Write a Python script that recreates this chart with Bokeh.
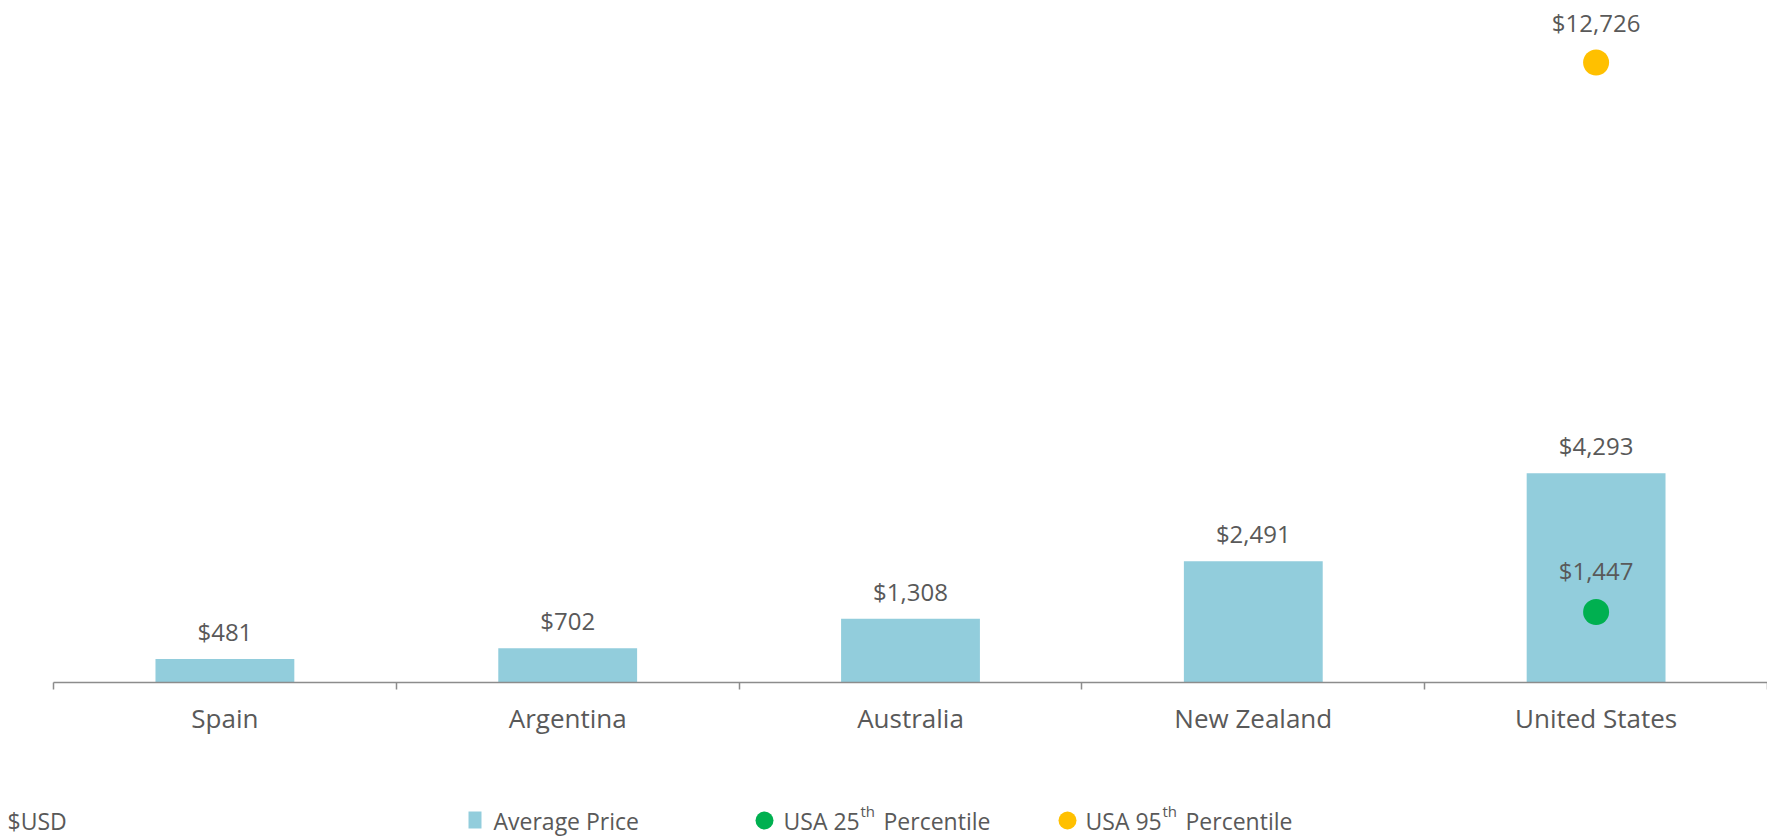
from bokeh.plotting import figure
from bokeh.models import Range1d, LinearAxis, FixedTicker, ColumnDataSource, LabelSet
from bokeh.core.properties import value
from bokeh.embed import file_html
from bokeh.resources import INLINE

# ---- data ----
countries = ["Spain", "Argentina", "Australia", "New Zealand", "United States"]
avg_price = [481, 702, 1308, 2491, 4293]
usa_p25 = [1447]
usa_p95 = [12726]
legend_names = ["Average Price", "USA 25", "USA 95"]
unit_label = "$USD"

BAR = "#92CDDC"
GREEN = "#00B050"
YELLOW = "#FFC000"
TXT = "#595959"
AXC = "#8C8C8C"
FONT = "Open Sans"

W = 1767
H1 = 760
H2 = 76

xs = [i + 0.5 for i in range(len(countries))]
bounds = list(range(len(countries) + 1))
us_x = [xs[countries.index("United States")]]

def money(v):
    return "${:,}".format(v)

src = ColumnDataSource(dict(x=xs, avg=avg_price, lab=[money(v) for v in avg_price]))
src25 = ColumnDataSource(dict(x=us_x, y=usa_p25, lab=[money(v) for v in usa_p25]))
src95 = ColumnDataSource(dict(x=us_x, y=usa_p95, lab=[money(v) for v in usa_p95]))

p = figure(width=W, height=H1, x_range=Range1d(0, 5), y_range=Range1d(0, 14000),
           x_axis_location=None, y_axis_location=None, toolbar_location=None,
           output_backend="svg", min_border_left=53, min_border_right=0,
           min_border_top=0, min_border_bottom=H1 - 682)
p.outline_line_color = None
p.grid.visible = False
p.background_fill_color = "white"
p.border_fill_color = "white"

p.vbar(x="x", top="avg", width=0.405, source=src, fill_color=BAR, line_color=None)
p.scatter(x="x", y="y", source=src25, size=26, fill_color=GREEN, line_color=None)
p.scatter(x="x", y="y", source=src95, size=26, fill_color=YELLOW, line_color=None)

for s, yfield, off in ((src, "avg", 18), (src25, "y", 32), (src95, "y", 31)):
    p.add_layout(LabelSet(x="x", y=yfield, text="lab", source=s, y_offset=off,
                          text_align="center", text_baseline="alphabetic",
                          text_font=value(FONT), text_font_size=value("24px"),
                          text_color=TXT))

ax = LinearAxis(ticker=FixedTicker(ticks=xs, minor_ticks=bounds),
                major_label_overrides={x: c for x, c in zip(xs, countries)},
                axis_line_color=AXC, axis_line_width=1.5,
                major_tick_line_color=None, major_tick_in=0, major_tick_out=0,
                minor_tick_line_color=AXC, minor_tick_line_width=1.5,
                minor_tick_in=0, minor_tick_out=7,
                major_label_standoff=10,
                major_label_text_font=FONT, major_label_text_font_size="26px",
                major_label_text_color=TXT)
p.add_layout(ax, "below")

# ---- legend row ----
leg = figure(width=W, height=H2, x_range=Range1d(0, W), y_range=Range1d(H2, 0),
             x_axis_location=None, y_axis_location=None, toolbar_location=None,
             output_backend="svg", min_border=0)
leg.outline_line_color = None
leg.grid.visible = False

base = 60
tf = value(FONT)
fs = value("23px")
leg.text(x=[7], y=[base], text=[unit_label], text_font=tf, text_font_size=fs,
         text_color=TXT, text_baseline="alphabetic")
leg.quad(left=[468], right=[481], top=[51], bottom=[68], fill_color=BAR, line_color=None)
leg.text(x=[493], y=[base], text=[legend_names[0]], text_font=tf,
         text_font_size=fs, text_color=TXT, text_baseline="alphabetic")

for cx, tx, col, name in ((764, 783, GREEN, legend_names[1]), (1067, 1085, YELLOW, legend_names[2])):
    leg.scatter(x=[cx], y=[60], size=18, fill_color=col, line_color=None)
    leg.text(x=[tx], y=[base], text=[name], text_font=tf, text_font_size=fs,
             text_color=TXT, text_baseline="alphabetic")
    leg.text(x=[tx + 77], y=[base - 10], text=["th"], text_font=tf,
             text_font_size=value("15px"), text_color=TXT, text_baseline="alphabetic")
    leg.text(x=[tx + 100], y=[base], text=["Percentile"], text_font=tf,
             text_font_size=fs, text_color=TXT, text_baseline="alphabetic")

open("out.html", "w").write(file_html([p, leg], INLINE))
